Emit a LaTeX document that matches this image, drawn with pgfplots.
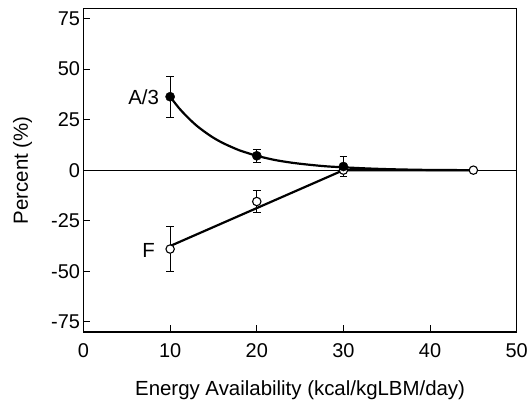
\documentclass[border=0pt]{standalone}
\usepackage{fontspec}
\setmainfont{Liberation Sans}
\usepackage{pgfplots}
\pgfplotsset{compat=1.18}
\begin{document}
\begin{tikzpicture}
\useasboundingbox (-83.5bp,-69bp) rectangle (443.5bp,332bp);
\begin{axis}[
  at={(0,0)}, anchor=south west,
  scale only axis, width=433.2bp, height=323.7bp,
  xmin=0, xmax=50, ymin=-80, ymax=80,
  xtick={0,10,20,30,40,50},
  xticklabels={0,10,20,30,40,50},
  ytick={-75,-50,-25,0,25,50,75},
  yticklabels={-75,-50,-25,0,25,50,75},
  tick align=inside,
  xtick pos=bottom, ytick pos=left,
  major tick length=7bp,
  tick style={black, line width=0.9bp},
  axis line style={line width=1.1bp},
  ticklabel style={font=\fontsize{20}{23}\selectfont},
  xticklabel style={yshift=-8bp},
  yticklabel style={xshift=0bp},
  label style={font=\fontsize{20.5}{24}\selectfont},
  xlabel={Energy Availability (kcal/kgLBM/day)},
  ylabel={Percent (\%)},
  xlabel style={at={(axis description cs:0.5,0)}, anchor=base, yshift=-63bp},
  ylabel style={at={(axis description cs:0,0.5)}, anchor=base, yshift=55.5bp},
  clip=false,
]
% zero line
\addplot[black, line width=0.9bp, forget plot] coordinates {(0,0) (50,0)};
% F fitted line
\addplot[black, line width=2.2bp, forget plot] coordinates {(10,-37.5) (30,0) (45,0)};
% A/3 fitted curve
\addplot[black, line width=2.2bp, smooth, forget plot] coordinates {
(10,36.3) (11,30.8) (12,26.2) (13,22.2) (14,18.9) (15,16.0) (16,13.6) (17,11.6)
(18,9.8) (19,8.4) (20,7.1) (22,5.1) (24,3.7) (26,2.7) (28,1.9) (30,1.4)
(33,0.8) (36,0.4) (40,0.1) (45,0.0)};
% F data
\addplot[black, only marks, mark=*, mark options={fill=white, line width=1.1bp}, mark size=4.2bp,
  error bars/.cd, y dir=both, y explicit,
  error bar style={line width=1bp},
  error mark options={rotate=90, mark size=3.8bp, line width=1bp}]
  coordinates {(10,-39) +- (0,11.3) (20,-15.5) +- (0,5.3) (30,0) (45,0)};
% A/3 data
\addplot[black, only marks, mark=*, mark options={fill=black}, mark size=4.6bp,
  error bars/.cd, y dir=both, y explicit,
  error bar style={line width=1bp},
  error mark options={rotate=90, mark size=3.8bp, line width=1bp}]
  coordinates {(10,36.3) +- (0,10.2) (20,7.1) +- (0,3.1) (30,1.8) +- (0,4.8)};
\node[anchor=east, inner sep=0pt, font=\fontsize{20.5}{24}\selectfont] at (axis cs:10,36.3) [xshift=-11bp] {A/3};
\node[anchor=east, inner sep=0pt, font=\fontsize{20.5}{24}\selectfont] at (axis cs:10,-39.5) [xshift=-15bp] {F};
\end{axis}
\end{tikzpicture}
\end{document}
